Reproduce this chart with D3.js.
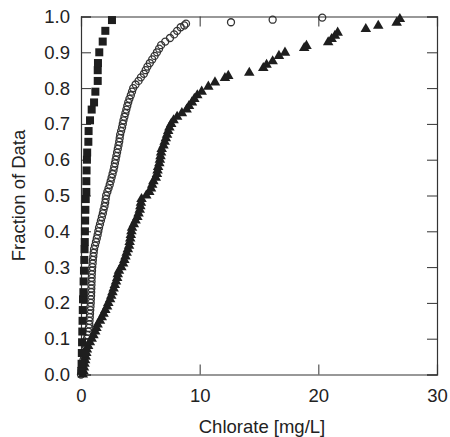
<!DOCTYPE html>
<html>
<head>
<meta charset="utf-8">
<script src="https://cdn.jsdelivr.net/npm/d3@7"></script>
<style>
  body { margin: 0; background: #fff; }
  text { font-family: "Liberation Sans", Arial, sans-serif; fill: #222; }
</style>
</head>
<body>
<div id="chart"></div>
<script>
// cumulative fractions, [chlorate mg/L, fraction]
const squares = [[0.02,0.01],[0.05,0.03],[0.07,0.06],[0.09,0.09],[0.11,0.12],[0.13,0.15],[0.15,0.18],
  [0.17,0.21],[0.2,0.23],[0.22,0.26],[0.25,0.29],[0.28,0.32],[0.3,0.35],[0.32,0.37],[0.33,0.4],
  [0.35,0.43],[0.37,0.46],[0.4,0.49],[0.45,0.51],[0.45,0.54],[0.47,0.57],[0.5,0.6],[0.52,0.62],
  [0.62,0.65],[0.64,0.68],[0.76,0.71],[0.9,0.74],[1.1,0.76],[1.21,0.79],[1.41,0.82],[1.41,0.85],
  [1.43,0.87],[1.54,0.9],[1.83,0.93],[2.05,0.96],[2.61,0.99]];

const circles = [[0,0],[0.05,0.01],[0.1,0.02],[0.15,0.03],[0.2,0.04],[0.25,0.05],[0.3,0.06],[0.35,0.07],
  [0.4,0.08],[0.45,0.09],[0.5,0.1],[0.55,0.11],[0.62,0.12],[0.66,0.13],[0.7,0.14],[0.72,0.15],
  [0.74,0.16],[0.76,0.17],[0.78,0.18],[0.8,0.19],[0.82,0.2],[0.83,0.21],[0.85,0.22],[0.86,0.23],
  [0.87,0.24],[0.88,0.25],[0.89,0.26],[0.9,0.27],[0.91,0.28],[0.93,0.29],[0.95,0.3],[0.98,0.31],
  [1.0,0.32],[1.04,0.33],[1.07,0.34],[1.1,0.35],[1.18,0.36],[1.26,0.37],[1.33,0.38],[1.4,0.39],
  [1.46,0.4],[1.52,0.41],[1.6,0.42],[1.68,0.43],[1.76,0.44],[1.84,0.45],[1.9,0.46],[1.98,0.47],
  [2.04,0.48],[2.08,0.49],[2.12,0.5],[2.22,0.51],[2.32,0.52],[2.42,0.53],[2.5,0.54],[2.58,0.55],
  [2.66,0.56],[2.74,0.57],[2.8,0.58],[2.86,0.59],[2.92,0.6],[2.98,0.61],[3.04,0.62],[3.1,0.63],
  [3.16,0.64],[3.22,0.65],[3.26,0.66],[3.3,0.67],[3.38,0.68],[3.46,0.69],[3.52,0.7],[3.58,0.71],
  [3.66,0.72],[3.74,0.73],[3.82,0.74],[3.9,0.75],[3.98,0.76],[4.08,0.77],[4.2,0.78],[4.3,0.79],
  [4.4,0.8],[4.6,0.81],[4.85,0.82],[5.05,0.83],[5.3,0.84],[5.45,0.85],[5.6,0.86],[5.8,0.87],
  [6.0,0.88],[6.2,0.89],[6.4,0.9],[6.58,0.91],[6.75,0.92],[7.1,0.93],[7.5,0.94],[7.85,0.95],
  [8.1,0.96],[8.4,0.97],[8.7,0.975],[8.85,0.98],[12.64,0.984],[16.15,0.991],[20.33,0.997]];

const triangles = [[0.15,0],[0.2,0.01],[0.25,0.02],[0.3,0.03],[0.35,0.04],[0.4,0.05],[0.45,0.06],
  [0.5,0.07],[0.6,0.08],[0.75,0.09],[0.9,0.1],[1.05,0.11],[1.2,0.12],[1.3,0.13],[1.4,0.14],
  [1.6,0.15],[1.75,0.16],[1.9,0.17],[2.05,0.18],[2.2,0.19],[2.3,0.2],[2.45,0.21],[2.55,0.22],
  [2.65,0.23],[2.75,0.24],[2.85,0.25],[2.95,0.26],[3.05,0.27],[3.1,0.28],[3.2,0.29],[3.4,0.3],
  [3.55,0.31],[3.65,0.32],[3.75,0.33],[3.85,0.34],[3.95,0.35],[4.05,0.36],[4.1,0.37],[4.15,0.38],
  [4.2,0.39],[4.25,0.4],[4.3,0.41],[4.45,0.42],[4.6,0.43],[4.75,0.44],[4.85,0.45],[4.95,0.46],
  [5.0,0.47],[5.05,0.48],[5.1,0.49],[5.5,0.5],[5.75,0.51],[5.9,0.52],[6.0,0.53],[6.1,0.54],
  [6.3,0.55],[6.4,0.56],[6.45,0.57],[6.5,0.58],[6.6,0.59],[6.65,0.6],[6.7,0.61],[6.75,0.62],
  [6.8,0.63],[6.95,0.64],[7.05,0.65],[7.15,0.66],[7.25,0.67],[7.35,0.68],[7.45,0.69],[7.6,0.7],
  [7.8,0.71],[8.1,0.72],[8.5,0.73],[8.9,0.74],[9.1,0.75],[9.35,0.76],[9.55,0.77],[9.8,0.78],
  [10.17,0.79],[10.73,0.804],[11.29,0.816],[12.13,0.828],[12.41,0.834],[14.18,0.843],[15.36,0.856],
  [15.64,0.865],[16.15,0.875],[16.68,0.89],[17.19,0.899],[18.81,0.912],[19.0,0.918],[20.83,0.928],
  [21.12,0.937],[21.4,0.946],[21.63,0.955],[24.0,0.965],[25.05,0.974],[26.6,0.983],[26.87,0.993]];

const xTicks = [0, 10, 20, 30];
const yTicks = [0, 0.1, 0.2, 0.3, 0.4, 0.5, 0.6, 0.7, 0.8, 0.9, 1.0];

const margin = {top: 16.5, right: 13, bottom: 62.5, left: 81},
    width = 450 - margin.left - margin.right,
    height = 437 - margin.top - margin.bottom;

const svg = d3.select("#chart").append("svg")
    .attr("width", 450).attr("height", 437)
  .append("g")
    .attr("transform", `translate(${margin.left},${margin.top})`);

const x = d3.scaleLinear().domain([0, 30]).range([0, width]);
const y = d3.scaleLinear().domain([0, 1]).range([height, 0]);

// axes with inward ticks on every side
const tick = 10;
svg.append("g").attr("transform", `translate(0,${height})`)
  .call(d3.axisBottom(x).tickValues(xTicks).tickSize(-tick).tickPadding(tick + 4).tickFormat(d3.format("d")));
svg.append("g")
  .call(d3.axisTop(x).tickValues(xTicks).tickSize(-tick).tickFormat(""));
svg.append("g")
  .call(d3.axisLeft(y).tickValues(yTicks).tickSize(-tick).tickPadding(tick + 1).tickFormat(d3.format(".1f")));
svg.append("g").attr("transform", `translate(${width},0)`)
  .call(d3.axisRight(y).tickValues(yTicks).tickSize(-tick).tickFormat(""));

svg.selectAll(".domain").attr("stroke", "#333").attr("stroke-width", 1.2);
svg.selectAll(".tick line").attr("stroke", "#333").attr("stroke-width", 1);
svg.selectAll(".tick text").style("font-size", "18.5px").attr("fill", "#222");

// series
svg.append("g").selectAll("circle")
  .data(circles)
  .join("circle")
    .attr("cx", d => x(d[0]))
    .attr("cy", d => y(d[1]))
    .attr("r", 3.5)
    .attr("fill", "none")
    .attr("stroke", "#333")
    .attr("stroke-width", 1.3);

svg.append("g").selectAll("path")
  .data(triangles)
  .join("path")
    .attr("d", d3.symbol(d3.symbolTriangle, 48))
    .attr("transform", d => `translate(${x(d[0])},${y(d[1])})`)
    .attr("fill", "#1e1e1e");

svg.append("g").selectAll("rect")
  .data(squares)
  .join("rect")
    .attr("x", d => x(d[0]) - 4)
    .attr("y", d => y(d[1]) - 4)
    .attr("width", 8)
    .attr("height", 8)
    .attr("fill", "#1e1e1e");

// axis titles
svg.append("text")
  .attr("x", width / 2 + 3)
  .attr("y", height + 58)
  .attr("text-anchor", "middle")
  .style("font-size", "18.5px")
  .text("Chlorate [mg/L]");

svg.append("text")
  .attr("transform", `translate(${-margin.left + 25},${height / 2}) rotate(-90)`)
  .attr("text-anchor", "middle")
  .style("font-size", "18.5px")
  .text("Fraction of Data");
</script>
</body>
</html>
